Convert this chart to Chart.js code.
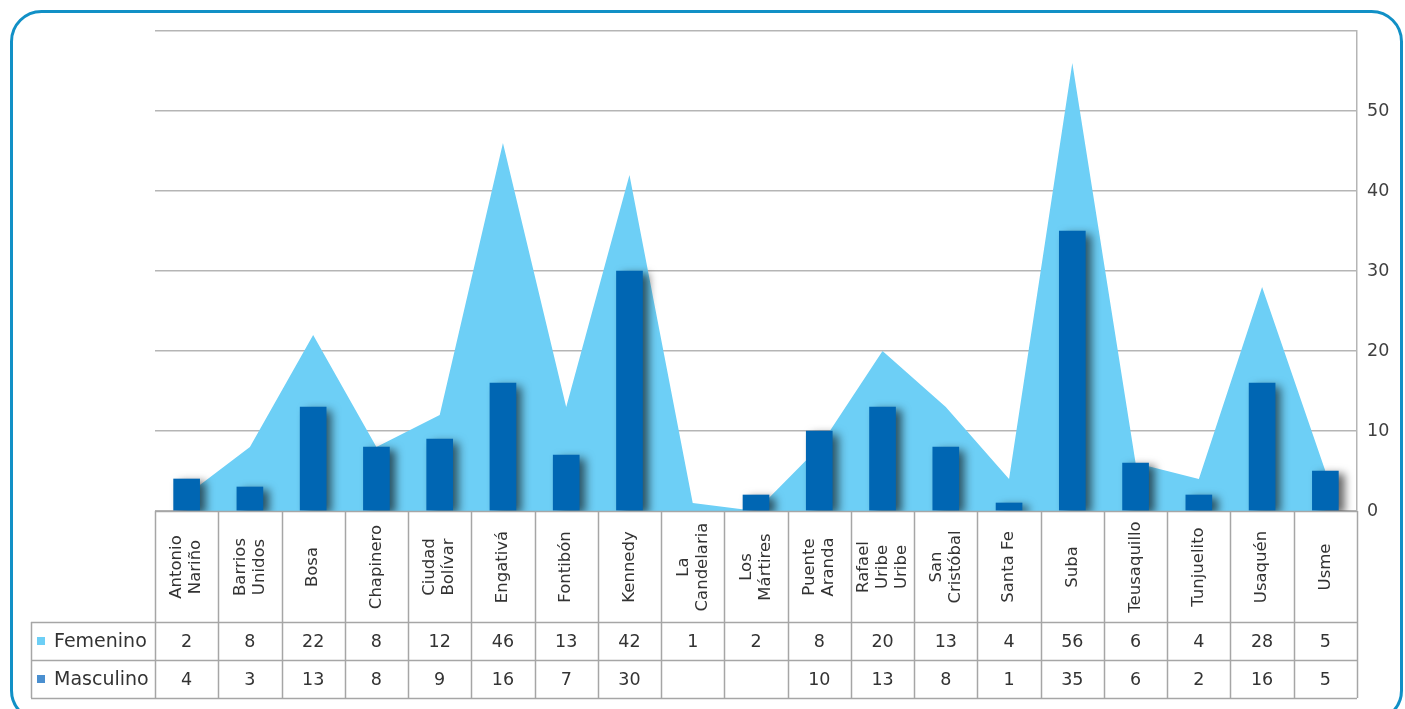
<!DOCTYPE html>
<html>
<head>
<meta charset="utf-8">
<script src="https://cdn.jsdelivr.net/npm/chart.js@4.4.1/dist/chart.umd.min.js"></script>
<style>
  html, body { margin: 0; padding: 0; background: #ffffff; overflow: hidden; }
  canvas { display: block; }
</style>
</head>
<body>
<canvas id="c" width="1405" height="709"></canvas>
<script>
// Category labels (line-broken as in the reference)
const categories = [
  ['Antonio', 'Nariño'], ['Barrios', 'Unidos'], ['Bosa'], ['Chapinero'],
  ['Ciudad', 'Bolívar'], ['Engativá'], ['Fontibón'], ['Kennedy'],
  ['La', 'Candelaria'], ['Los', 'Mártires'], ['Puente', 'Aranda'],
  ['Rafael', 'Uribe', 'Uribe'], ['San', 'Cristóbal'], ['Santa Fe'],
  ['Suba'], ['Teusaquillo'], ['Tunjuelito'], ['Usaquén'], ['Usme']
];
// Values as plotted in the picture
const femeninoPlot  = [2, 8, 22, 8, 12, 46, 13, 42, 1, 0, 8, 20, 13, 4, 56, 6, 4, 28, 5];
const masculinoPlot = [4, 3, 13, 8, 9, 16, 7, 30, null, 2, 10, 13, 8, 1, 35, 6, 2, 16, 5];
// Values as written in the data table
const femeninoTable  = ['2', '8', '22', '8', '12', '46', '13', '42', '1', '2', '8', '20', '13', '4', '56', '6', '4', '28', '5'];
const masculinoTable = ['4', '3', '13', '8', '9', '16', '7', '30', '', '', '10', '13', '8', '1', '35', '6', '2', '16', '5'];
const seriesNames = ['Femenino', 'Masculino'];
const yTicks = [0, 10, 20, 30, 40, 50, 60];

const FONT = '"DejaVu Sans", sans-serif';
const AREA_COLOR = '#6dcff6';
const BAR_COLOR = '#0066b3';
const LEGEND_COLORS = ['#6dcff6', '#4a8fd0'];
const LINE_COLOR = '#a6a6a6';
const TEXT_COLOR = '#333333';

const frame = {
  id: 'frame',
  beforeDraw(chart) {
    const ctx = chart.ctx;
    ctx.save();
    ctx.fillStyle = '#ffffff';
    ctx.fillRect(0, 0, chart.width, chart.height);
    ctx.beginPath();
    ctx.roundRect(11.5, 11.5, 1390, 709, 30);
    ctx.lineWidth = 3;
    ctx.strokeStyle = '#1190c6';
    ctx.stroke();
    ctx.restore();
  }
};

const barShadow = {
  id: 'barShadow',
  beforeDatasetDraw(chart, args) {
    if (args.index !== 1) return;
    const ctx = chart.ctx;
    ctx.save();
    ctx.shadowColor = 'rgba(0,0,0,0.6)';
    ctx.shadowBlur = 9;
    ctx.shadowOffsetX = 6;
    ctx.shadowOffsetY = 3;
  },
  afterDatasetDraw(chart, args) {
    if (args.index !== 1) return;
    chart.ctx.restore();
  }
};

const dataTable = {
  id: 'dataTable',
  afterDraw(chart) {
    const ctx = chart.ctx;
    const xs = chart.scales.x;
    const area = chart.chartArea;
    const n = categories.length;
    const w = (area.right - area.left) / n;
    const top = area.bottom;
    const r1 = 622, r2 = 660, r3 = 698;
    const tableLeft = 31;
    ctx.save();
    ctx.strokeStyle = LINE_COLOR;
    ctx.lineWidth = 1.5;
    // vertical boundaries
    for (let i = 0; i <= n; i++) {
      const x = Math.round(area.left + i * w) + 0.5;
      ctx.beginPath();
      ctx.moveTo(x, top);
      ctx.lineTo(x, r3);
      ctx.stroke();
    }
    ctx.beginPath();
    ctx.moveTo(tableLeft + 0.5, r1);
    ctx.lineTo(tableLeft + 0.5, r3);
    ctx.stroke();
    [top, r1, r2, r3].forEach((y, k) => {
      ctx.beginPath();
      ctx.moveTo(k === 0 ? area.left : tableLeft, y + 0.5);
      ctx.lineTo(area.right, y + 0.5);
      ctx.stroke();
    });
    // rotated category labels
    ctx.fillStyle = TEXT_COLOR;
    ctx.font = '16.5px ' + FONT;
    ctx.textAlign = 'center';
    ctx.textBaseline = 'middle';
    categories.forEach((lines, i) => {
      const cx = xs.getPixelForValue(i);
      const cy = 567;
      ctx.save();
      ctx.translate(cx, cy);
      ctx.rotate(-Math.PI / 2);
      const lh = 19;
      const off = -(lines.length - 1) * lh / 2;
      lines.forEach((t, j) => ctx.fillText(t, 0, off + j * lh));
      ctx.restore();
    });
    // values
    ctx.font = '17.5px ' + FONT;
    categories.forEach((_, i) => {
      const cx = xs.getPixelForValue(i);
      ctx.fillText(femeninoTable[i], cx, (r1 + r2) / 2 + 1);
      ctx.fillText(masculinoTable[i], cx, (r2 + r3) / 2 + 1);
    });
    // legend keys
    ctx.textAlign = 'left';
    ctx.font = '19px ' + FONT;
    [[r1, r2], [r2, r3]].forEach(([a, b], k) => {
      const cy = (a + b) / 2;
      ctx.fillStyle = LEGEND_COLORS[k];
      ctx.fillRect(37, cy - 4, 8, 8);
      ctx.fillStyle = TEXT_COLOR;
      ctx.fillText(seriesNames[k], 54, cy + 1);
    });
    ctx.restore();
  }
};

new Chart(document.getElementById('c'), {
  data: {
    labels: categories.map(l => l.join(' ')),
    datasets: [
      {
        type: 'line',
        label: seriesNames[0],
        data: femeninoPlot,
        fill: 'origin',
        backgroundColor: AREA_COLOR,
        borderColor: AREA_COLOR,
        borderWidth: 0,
        pointRadius: 0,
        tension: 0,
        order: 1
      },
      {
        type: 'bar',
        label: seriesNames[1],
        data: masculinoPlot,
        backgroundColor: BAR_COLOR,
        barThickness: 26,
        order: 0
      }
    ]
  },
  options: {
    responsive: false,
    animation: false,
    layout: { padding: { left: 155, top: 31, right: 0, bottom: 198 } },
    plugins: { legend: { display: false }, tooltip: { enabled: false } },
    scales: {
      x: { type: 'category', display: false, offset: true },
      y: {
        position: 'right',
        min: 0, max: 60,
        afterBuildTicks(scale) { scale.ticks = yTicks.map(v => ({ value: v })); },
        afterFit(scale) { scale.width = 48; },
        ticks: {
          padding: 10,
          color: '#404040',
          font: { family: FONT, size: 17.5 },
          callback: v => (v === 60 ? '' : String(v))
        },
        grid: { color: '#b5b5b5', lineWidth: 1.5, drawTicks: false },
        border: { display: true, color: '#b5b5b5', width: 1.5 }
      }
    }
  },
  plugins: [frame, barShadow, dataTable]
});
</script>
</body>
</html>
